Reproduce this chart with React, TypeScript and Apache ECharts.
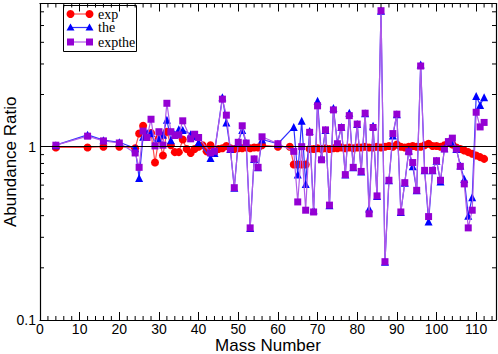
import React, { useEffect, useRef } from 'react';
import * as echarts from 'echarts';

// ---- data ----
const seriesNames = ['exp', 'the', 'expthe'];

const massExp = [4, 12, 16, 20, 24, 25, 26, 27, 28, 29, 30, 31, 32, 33, 34, 35, 36, 37, 38, 39, 40, 41, 42, 43, 44, 45, 46, 47, 48, 49, 50, 51, 52, 53, 54, 55, 56, 60, 63, 64, 65, 66, 67, 68, 69, 70, 71, 72, 73, 74, 75, 76, 77, 78, 79, 80, 81, 82, 83, 84, 85, 86, 87, 88, 89, 90, 91, 92, 93, 94, 95, 96, 97, 98, 99, 100, 101, 102, 103, 104, 105, 106, 107, 108, 109, 110, 111, 112];
const ratioExp = [0.99, 0.99, 1.0, 1.0, 0.98, 1.19, 1.32, 1.16, 1.2, 0.81, 1.12, 0.89, 1.22, 1.02, 0.93, 0.93, 1.1, 0.97, 0.92, 0.97, 1.0, 1.02, 0.94, 1.02, 0.96, 0.97, 0.98, 1.01, 0.98, 0.97, 0.98, 0.98, 0.99, 0.98, 0.99, 0.99, 1.02, 1.0, 1.0, 0.79, 0.79, 0.79, 0.79, 0.97, 0.97, 0.98, 0.97, 0.98, 0.97, 0.98, 0.98, 0.99, 0.98, 0.99, 0.98, 0.99, 0.99, 1.0, 0.99, 0.99, 1.0, 0.99, 1.0, 1.01, 1.0, 1.03, 1.0, 0.99, 1.0, 1.01, 1.0, 1.0, 1.02, 1.04, 1.01, 1.01, 1.0, 1.02, 1.05, 1.03, 0.99, 0.97, 0.95, 0.93, 0.91, 0.89, 0.87, 0.85];

const massThe = [4, 12, 16, 20, 24, 25, 26, 27, 28, 29, 30, 31, 32, 33, 34, 35, 36, 38, 39, 40, 43, 44, 46, 47, 48, 49, 50, 51, 52, 53, 54, 55, 56, 60, 64, 65, 66, 67, 68, 69, 70, 71, 72, 73, 74, 75, 76, 77, 78, 79, 80, 81, 82, 83, 84, 85, 86, 87, 88, 89, 90, 91, 92, 93, 94, 95, 96, 97, 98, 99, 100, 101, 102, 103, 104, 105, 106, 107, 108, 109, 110, 111, 112];
const ratioThe = [1.02, 1.17, 1.09, 1.06, 0.98, 0.66, 1.14, 1.2, 1.2, 1.05, 1.12, 1.17, 1.43, 1.09, 1.18, 1.26, 1.25, 1.18, 1.15, 1.06, 0.86, 0.92, 1.93, 1.38, 0.97, 0.58, 1.06, 1.25, 1.05, 0.34, 0.85, 0.76, 1.1, 1.04, 1.3, 0.69, 1.41, 0.61, 1.23, 0.43, 1.84, 0.87, 1.25, 0.46, 1.67, 1.05, 1.3, 0.69, 1.57, 0.76, 1.35, 0.72, 1.56, 0.44, 1.32, 0.52, 6.09, 0.217, 0.64, 1.16, 1.54, 0.42, 0.62, 0.95, 0.77, 0.56, 2.98, 0.73, 0.37, 0.73, 0.83, 0.63, 0.98, 1.07, 1.07, 0.97, 0.78, 0.65, 0.4, 0.51, 1.96, 1.74, 1.93];
const ratioExpThe = [1.02, 1.15, 1.08, 1.05, 0.92, 0.76, 1.23, 1.13, 1.44, 1.01, 1.22, 1.02, 1.78, 1.22, 1.16, 1.17, 1.41, 1.11, 1.18, 1.13, 0.92, 0.94, 1.88, 1.52, 0.97, 0.58, 1.06, 1.32, 1.05, 0.34, 0.85, 0.76, 1.14, 1.04, 0.94, 0.48, 1.0, 0.43, 1.21, 0.42, 1.72, 0.84, 1.25, 0.46, 1.63, 1.04, 1.29, 0.69, 1.51, 0.76, 1.35, 0.72, 1.56, 0.41, 1.29, 0.52, 6.09, 0.217, 0.64, 1.19, 1.54, 0.42, 0.62, 0.935, 0.81, 0.56, 2.92, 0.73, 0.395, 0.73, 0.83, 0.64, 0.97, 1.07, 1.12, 0.97, 0.77, 0.61, 0.34, 0.43, 1.58, 1.3, 1.38];

const xMinorTicks = [2, 4, 6, 8, 12, 14, 16, 18, 22, 24, 26, 28, 32, 34, 36, 38, 42, 44, 46, 48, 52, 54, 56, 58, 62, 64, 66, 68, 72, 74, 76, 78, 82, 84, 86, 88, 92, 94, 96, 98, 102, 104, 106, 108, 112, 114];
const yMinorTicks = [0.2, 0.3, 0.4, 0.5, 0.6, 0.7, 0.8, 0.9, 2, 3, 4, 5, 6];

const X_MIN = 0;
const X_MAX = 115;
const Y_MIN = 0.1;
const Y_MAX = 6.7;

const SANS = '"Liberation Sans", Arial, Helvetica, sans-serif';
const SERIF = '"Liberation Serif", "Times New Roman", serif';

const zip = (xs: number[], ys: number[]) => xs.map((x, i) => [x, ys[i]]);

function buildOption(): any {
  const legendRows = [
    { name: seriesNames[0], y: 14, sym: '#ff0000', line: '#ff4d4d', shape: 'circle' },
    { name: seriesNames[1], y: 27.5, sym: '#0000ff', line: '#3030ff', shape: 'triangle' },
    { name: seriesNames[2], y: 42, sym: '#9400d3', line: '#b05ae8', shape: 'rect' },
  ];
  const marker = (shape: string, cx: number, cy: number, color: string) => {
    if (shape === 'circle') return { type: 'circle', shape: { cx, cy, r: 4 }, style: { fill: color } };
    if (shape === 'triangle')
      return { type: 'polygon', shape: { points: [[cx, cy - 4], [cx - 4, cy + 3], [cx + 4, cy + 3]] }, style: { fill: color } };
    return { type: 'rect', shape: { x: cx - 3.5, y: cy - 3.5, width: 7, height: 7 }, style: { fill: color } };
  };
  const legendChildren: any[] = [
    { type: 'rect', shape: { x: 63.5, y: 5.5, width: 73, height: 46 }, style: { fill: '#fff', stroke: '#000', lineWidth: 1 } },
  ];
  legendRows.forEach((r) => {
    legendChildren.push({ type: 'line', shape: { x1: 70.5, y1: r.y, x2: 89.5, y2: r.y }, style: { stroke: r.line, lineWidth: 1.2 } });
    legendChildren.push(marker(r.shape, 70.5, r.y, r.sym));
    legendChildren.push(marker(r.shape, 89.5, r.y, r.sym));
    legendChildren.push({
      type: 'text',
      style: { text: r.name, x: 98, y: r.y, font: `14px ${SERIF}`, fill: '#000', verticalAlign: 'middle', align: 'left' },
    });
  });

  const tickStyle = { stroke: '#000', lineWidth: 1 };

  return {
    animation: false,
    backgroundColor: '#fff',
    grid: { left: 40, right: 2, top: 3.5, bottom: 34, containLabel: false, outerBoundsMode: 'none' },
    xAxis: [
      {
        type: 'value',
        min: X_MIN,
        max: X_MAX,
        interval: 10,
        position: 'bottom',
        name: 'Mass Number',
        nameLocation: 'middle',
        nameGap: 17,
        nameMoveOverlap: false,
        nameTextStyle: { fontFamily: SANS, fontSize: 17, color: '#000' },
        axisLine: { show: true, onZero: false, lineStyle: { color: '#000', width: 1.2 } },
        axisTick: { show: true, inside: true, length: 8, lineStyle: { color: '#000', width: 1 } },
        axisLabel: {
          show: true,
          margin: 2,
          fontFamily: SANS,
          fontSize: 14,
          color: '#000',
          formatter: (v: number) => (Math.abs(v % 10) < 1e-9 ? String(v) : ''),
        },
        splitLine: { show: false },
      },
      {
        type: 'value',
        min: X_MIN,
        max: X_MAX,
        interval: 10,
        position: 'top',
        axisLine: { show: true, onZero: false, lineStyle: { color: '#000', width: 1.2 } },
        axisTick: { show: true, inside: true, length: 8, lineStyle: { color: '#000', width: 1 } },
        axisLabel: { show: false },
        splitLine: { show: false },
      },
    ],
    yAxis: [
      {
        type: 'log',
        logBase: 10,
        min: Y_MIN,
        max: Y_MAX,
        position: 'left',
        name: 'Abundance Ratio',
        nameLocation: 'middle',
        nameGap: 21,
        nameRotate: 90,
        nameMoveOverlap: false,
        nameTextStyle: { fontFamily: SANS, fontSize: 17, color: '#000' },
        axisLine: { show: true, onZero: false, lineStyle: { color: '#000', width: 1.2 } },
        axisTick: { show: true, inside: true, length: 8, lineStyle: { color: '#000', width: 1 } },
        axisLabel: {
          show: true,
          margin: 4,
          fontFamily: SANS,
          fontSize: 14,
          color: '#000',
          formatter: (v: number) => {
            const lg = Math.log10(v);
            if (Math.abs(lg - Math.round(lg)) > 1e-6) return '';
            const p = Math.round(lg);
            return p < 0 ? Math.pow(10, p).toFixed(-p) : String(Math.pow(10, p));
          },
        },
        splitLine: { show: false },
      },
      {
        type: 'log',
        logBase: 10,
        min: Y_MIN,
        max: Y_MAX,
        position: 'right',
        axisLine: { show: true, onZero: false, lineStyle: { color: '#000', width: 1.2 } },
        axisTick: { show: true, inside: true, length: 8, lineStyle: { color: '#000', width: 1 } },
        axisLabel: { show: false },
        splitLine: { show: false },
      },
    ],
    series: [
      {
        name: seriesNames[0],
        type: 'line',
        data: zip(massExp, ratioExp),
        symbol: 'circle',
        symbolSize: 8,
        itemStyle: { color: '#ff0000' },
        lineStyle: { color: '#ff4d4d', width: 1.2 },
        z: 3,
        markLine: {
          silent: true,
          symbol: 'none',
          label: { show: false },
          lineStyle: { color: '#000', width: 1.2, type: 'solid' },
          data: [{ yAxis: 1 }],
          z: 10,
        },
      },
      {
        name: seriesNames[1],
        type: 'line',
        data: zip(massThe, ratioThe),
        symbol: 'triangle',
        symbolSize: 8,
        itemStyle: { color: '#0000ff' },
        lineStyle: { color: '#3030ff', width: 1.2 },
        z: 4,
      },
      {
        name: seriesNames[2],
        type: 'line',
        data: zip(massThe, ratioExpThe),
        symbol: 'rect',
        symbolSize: 7,
        itemStyle: { color: '#9400d3' },
        lineStyle: { color: '#b05ae8', width: 1.2 },
        z: 5,
      },
      {
        type: 'custom',
        silent: true,
        clip: false,
        data: yMinorTicks.map((v) => [X_MIN, v]),
        renderItem: (params: any, api: any) => {
          const cs = params.coordSys;
          const y = api.coord([X_MIN, api.value(1)])[1];
          return {
            type: 'group',
            children: [
              { type: 'line', shape: { x1: cs.x, y1: y, x2: cs.x + 4, y2: y }, style: tickStyle },
              { type: 'line', shape: { x1: cs.x + cs.width, y1: y, x2: cs.x + cs.width - 4, y2: y }, style: tickStyle },
            ],
          };
        },
        z: 6,
      },
      {
        type: 'custom',
        silent: true,
        clip: false,
        data: xMinorTicks.map((v) => [v, 1]),
        renderItem: (params: any, api: any) => {
          const cs = params.coordSys;
          const x = api.coord([api.value(0), 1])[0];
          return {
            type: 'group',
            children: [
              { type: 'line', shape: { x1: x, y1: cs.y + cs.height, x2: x, y2: cs.y + cs.height - 4 }, style: tickStyle },
              { type: 'line', shape: { x1: x, y1: cs.y, x2: x, y2: cs.y + 4 }, style: tickStyle },
            ],
          };
        },
        z: 6,
      },
    ],
    graphic: [{ type: 'group', z: 100, children: legendChildren }],
  };
}

export default function App() {
  const ref = useRef<HTMLDivElement>(null);
  useEffect(() => {
    if (!ref.current) return;
    const chart = echarts.init(ref.current, null, { renderer: 'svg' });
    chart.setOption(buildOption());
    return () => chart.dispose();
  }, []);
  return <div ref={ref} style={{ position: 'absolute', left: 0, top: 0, width: 498, height: 354 }} />;
}
